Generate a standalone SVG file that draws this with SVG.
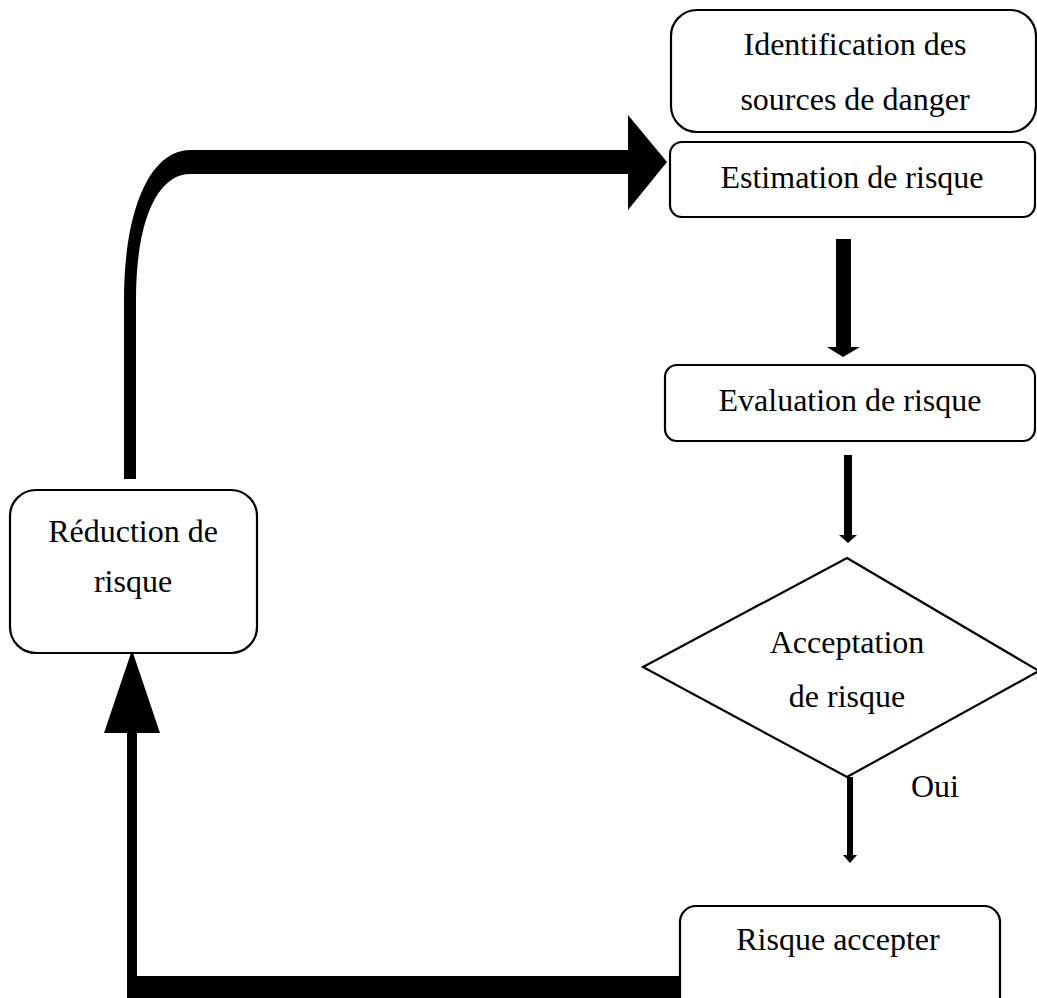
<svg xmlns="http://www.w3.org/2000/svg" width="1037" height="998" viewBox="0 0 1037 998">
  <style>
    .box { fill: #fff; stroke: #000; stroke-width: 2.2; }
    .lbl { font-family: "Liberation Serif", "Times New Roman", serif; font-size: 32px; fill: #000; text-anchor: middle; }
    .ink { fill: #000; stroke: none; }
  </style>
  <rect width="1037" height="998" fill="#fff"/>

  <g id="connectors">
    <!-- loop back from reduction to estimation -->
    <path class="ink" d="M124,479 L124,300 C124,210 150,150 190,150 L628,150 L628,115 L667,162 L628,210 L628,174 L190,174 C160,174 136,215 136,300 L136,479 Z"/>
    <!-- estimation to evaluation -->
    <path class="ink" d="M836,239 L851,239 L851,347 L860,347 L843,357 L827,347 L836,347 Z"/>
    <!-- evaluation to acceptation -->
    <path class="ink" d="M844,455 L852,455 L852,535 L857,535 L848,543 L839,535 L844,535 Z"/>
    <!-- acceptation to accepted (Oui) -->
    <path class="ink" d="M847,777 L853,777 L853,855 L857,855 L850,863 L843,855 L847,855 Z"/>
    <!-- accepted back to reduction -->
    <path class="ink" d="M681,976 L681,998 L127,998 L127,733 L104,733 L132,650 L160,733 L137,733 L137,976 Z"/>
  </g>

  <g id="identification">
    <rect class="box" x="671" y="10" width="365" height="122" rx="26"/>
    <text class="lbl" x="855" y="55">Identification des</text>
    <text class="lbl" x="855" y="110">sources de danger</text>
  </g>

  <g id="estimation">
    <rect class="box" x="670" y="142" width="365" height="75" rx="12"/>
    <text class="lbl" x="852" y="188">Estimation de risque</text>
  </g>

  <g id="evaluation">
    <rect class="box" x="665" y="365" width="370" height="76" rx="12"/>
    <text class="lbl" x="850" y="411">Evaluation de risque</text>
  </g>

  <g id="acceptation">
    <polygon class="box" points="847,558 1039,671 847,777 643,667"/>
    <text class="lbl" x="847" y="653">Acceptation</text>
    <text class="lbl" x="847" y="707">de risque</text>
    <text class="lbl" x="935" y="797">Oui</text>
  </g>

  <g id="accepte">
    <rect class="box" x="680" y="906" width="320" height="110" rx="16"/>
    <text class="lbl" x="838" y="950">Risque accepter</text>
  </g>

  <g id="reduction">
    <rect class="box" x="10" y="490" width="247" height="163" rx="26"/>
    <text class="lbl" x="133" y="542">Réduction de</text>
    <text class="lbl" x="133" y="592">risque</text>
  </g>
</svg>
